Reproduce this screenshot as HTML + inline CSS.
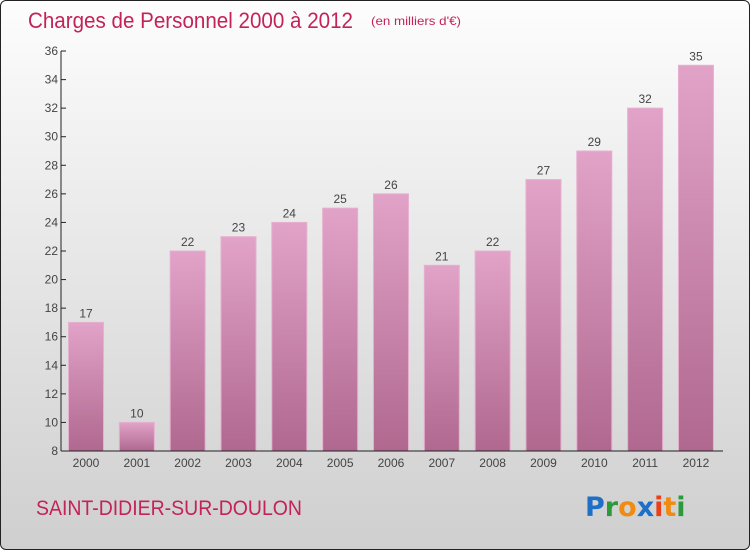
<!DOCTYPE html>
<html><head><meta charset="utf-8"><style>
html,body{margin:0;padding:0;}
body{width:750px;height:550px;overflow:hidden;font-family:"Liberation Sans",sans-serif;}
#wrap{position:absolute;left:0;top:0;width:748px;height:548px;border:1px solid #222;border-radius:6px;background:linear-gradient(#fdfdfd,#eaeaea 40%,#cfcfcf);overflow:hidden;}
</style></head><body>
<div id="wrap">
<svg id="chart" width="750" height="550">
<defs>
<linearGradient id="bg" x1="0" y1="0" x2="0" y2="1"><stop offset="0" stop-color="#e2a3c8"/><stop offset="1" stop-color="#b0688f"/></linearGradient>
</defs>
<text x="27" y="27" font-size="22" fill="#c4225a" textLength="325" lengthAdjust="spacingAndGlyphs">Charges de Personnel 2000 à 2012</text>
<text x="370" y="24" font-size="12" fill="#c4225a" textLength="90" lengthAdjust="spacingAndGlyphs">(en milliers d'€)</text>
<text x="35" y="514" font-size="21" fill="#c4225a" textLength="266" lengthAdjust="spacingAndGlyphs">SAINT-DIDIER-SUR-DOULON</text>
<g font-size="27" font-weight="bold" font-family="'DejaVu Sans',sans-serif">
<text x="584" y="515"><tspan fill="#1e6fc8">P</tspan><tspan fill="#2a9a3a">r</tspan><tspan fill="#f08a10">o</tspan><tspan fill="#1e6fc8">x</tspan><tspan fill="#e8401a">i</tspan><tspan fill="#f08a10">t</tspan><tspan fill="#2a9a3a">i</tspan></text>
</g>
<g id="plot"></g>
</svg>
</div>
<script>
const categories=["2000","2001","2002","2003","2004","2005","2006","2007","2008","2009","2010","2011","2012"];
const values=[17,10,22,23,24,25,26,21,22,27,29,32,35];
const yTicks=[8,10,12,14,16,18,20,22,24,26,28,30,32,34,36];
const NS="http://www.w3.org/2000/svg";
const g=document.getElementById('plot');
const x0=60,x1=722,yTop=50,yBot=450,yMin=8,yMax=36;
const y=v=>yBot-(v-yMin)/(yMax-yMin)*(yBot-yTop);
const step=50.83;
const xc=i=>85+step*i;
function mk(t,a){const e=document.createElementNS(NS,t);for(const k in a)e.setAttribute(k,a[k]);g.appendChild(e);return e;}
yTicks.forEach(t=>{
 const l=mk('line',{x1:x0,x2:x0+5,y1:y(t),y2:y(t),stroke:'#222'});
 
 
 const tx=mk('text',{x:x0-3,y:y(t)+4,'text-anchor':'end','font-size':12,fill:'#444'});
 tx.textContent=t;
 
 
});
categories.forEach((c,i)=>{
 const v=values[i];
 const r=mk('rect',{x:xc(i)-17.5,y:y(v),width:35,height:yBot-y(v),fill:'url(#bg)',stroke:'#e6b0cf','stroke-width':1});
 
 
 const vl=mk('text',{x:xc(i),y:y(v)-5,'text-anchor':'middle','font-size':12,fill:'#444'});
 vl.textContent=v;
 
 
 const xl=mk('text',{x:xc(i),y:yBot+16,'text-anchor':'middle','font-size':12,fill:'#444'});
 xl.textContent=c;
 
 
});
const ya=mk('line',{x1:x0,x2:x0,y1:yTop,y2:yBot,stroke:'#222'});


const xa=mk('line',{x1:x0,x2:x1,y1:yBot,y2:yBot,stroke:'#222'});


</script>
</body></html>
